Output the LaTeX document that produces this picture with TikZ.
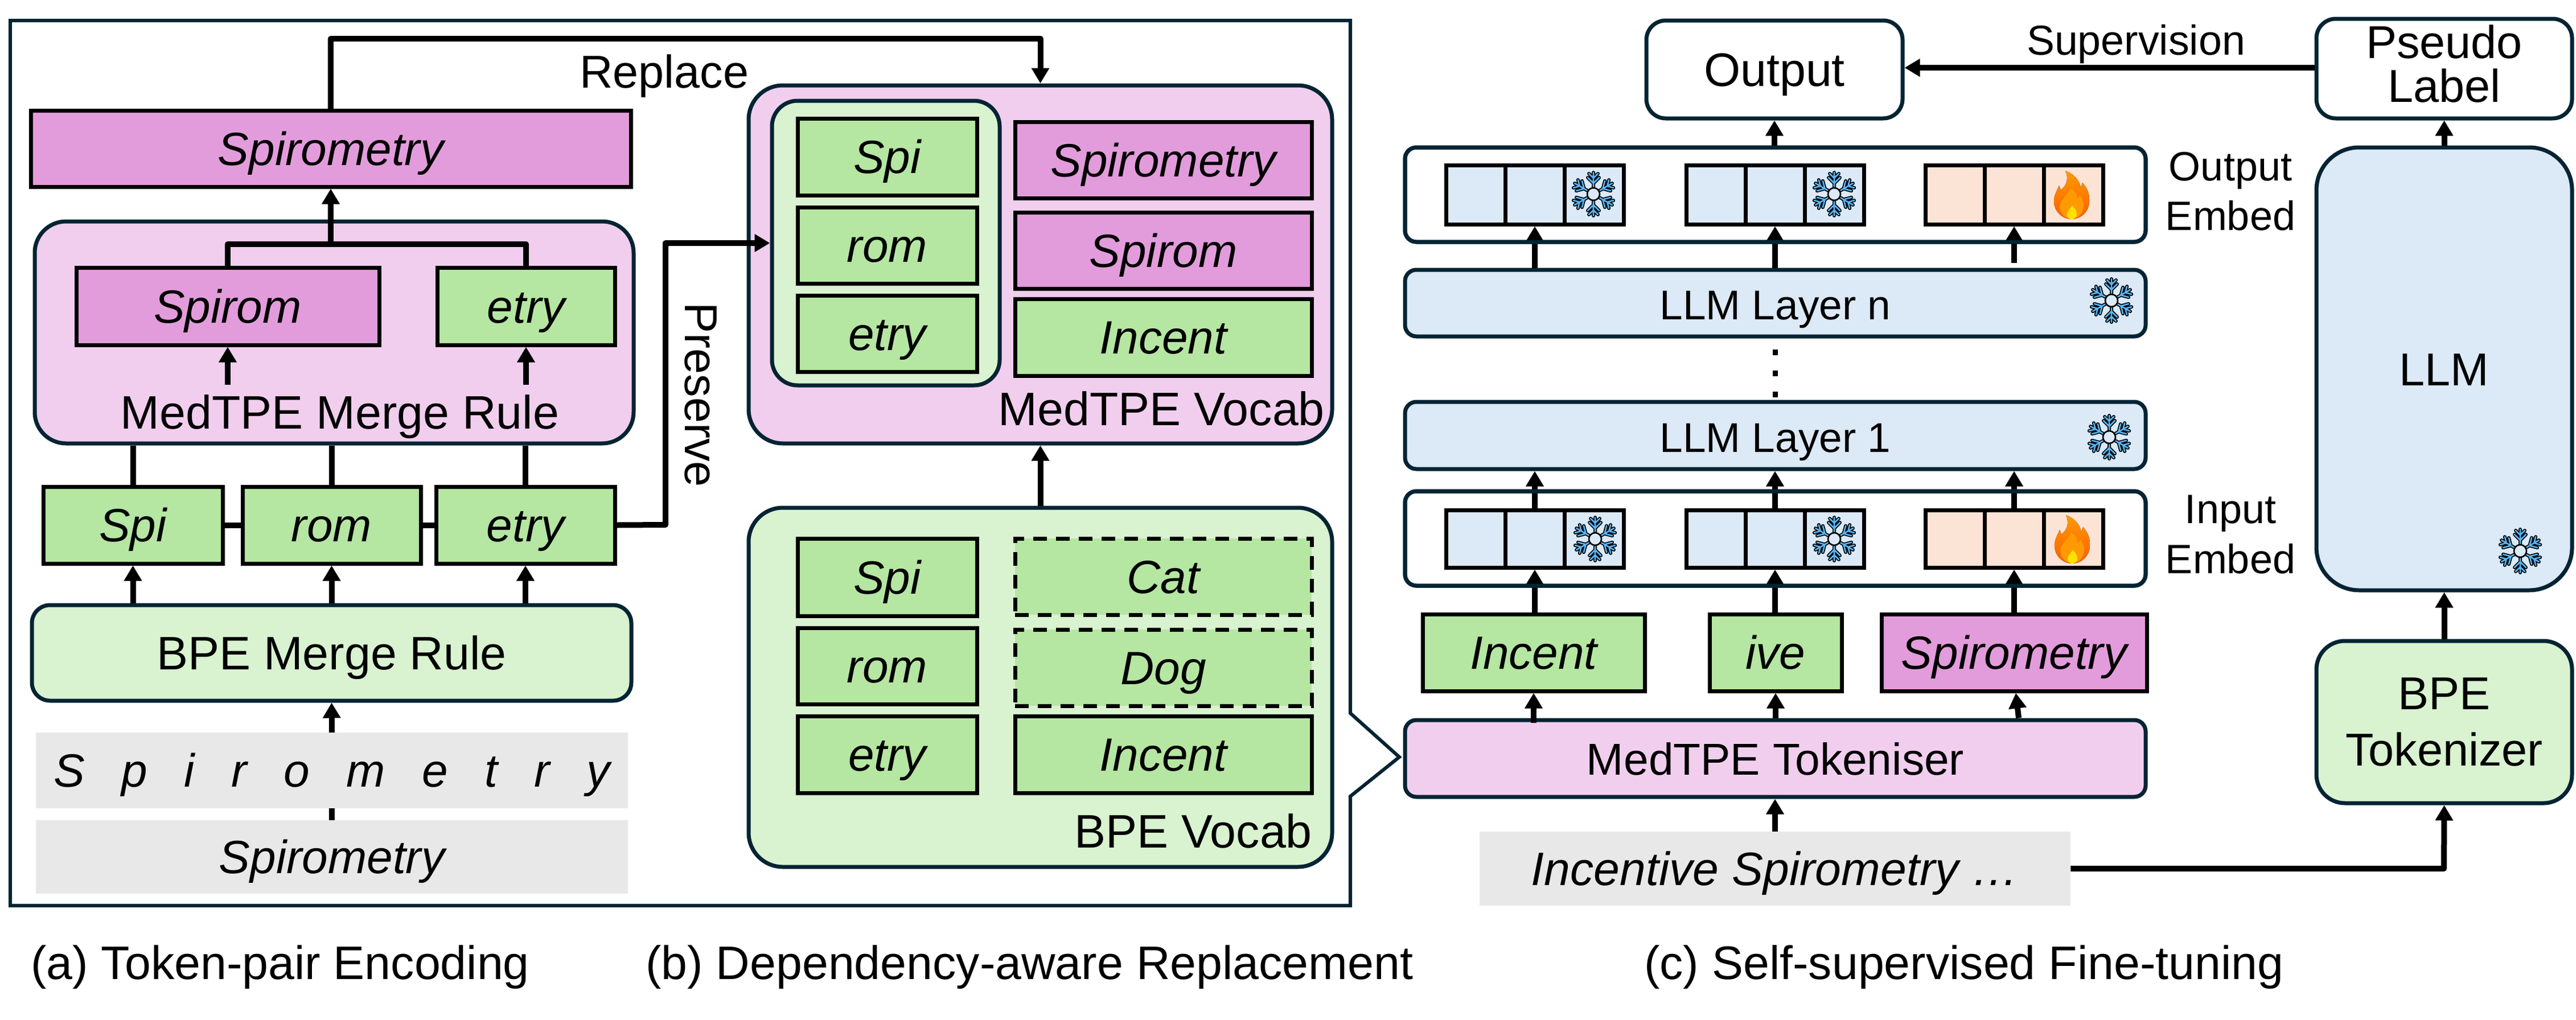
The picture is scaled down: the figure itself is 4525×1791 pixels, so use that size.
\documentclass[tikz,border=0pt]{standalone}
\usepackage{fontspec}
\setmainfont{Liberation Sans}
\usetikzlibrary{arrows.meta,calc}
\definecolor{ink}{HTML}{042433}
\definecolor{pinkstrong}{HTML}{E29CDB}
\definecolor{pinklight}{HTML}{F1CEEE}
\definecolor{greenstrong}{HTML}{B5E6A2}
\definecolor{greenlight}{HTML}{D9F2D0}
\definecolor{bluelight}{HTML}{DCE9F6}
\definecolor{peach}{HTML}{FBE3D6}
\definecolor{greybg}{HTML}{E8E8E8}
\definecolor{flakeblue}{HTML}{5AB4F5}
\definecolor{flametop}{HTML}{FF9A00}
\definecolor{flamebot}{HTML}{FF5F00}
\definecolor{flamemid}{HTML}{FF9A05}
\definecolor{flamecore}{HTML}{FFE100}
\newcommand{\fs}[1]{\fontsize{#1}{#1}\selectfont}
% name, x1, y1, x2, y2, style, text
\newcommand{\mybox}[7]{\node[#6,minimum width={((#4)-(#2))*1pt},minimum height={((#5)-(#3))*1pt}] (#1) at ({((#2)+(#4))/2},{((#3)+(#5))/2}) {#7};}
% name, x1, y1, y2, fill
\newcommand{\cellgroup}[5]{%
  \mybox{#1a}{#2}{#3}{#2+104}{#4}{cellbox,fill=#5}{}
  \mybox{#1b}{#2+104}{#3}{#2+208}{#4}{cellbox,fill=#5}{}
  \mybox{#1c}{#2+208}{#3}{#2+312}{#4}{cellbox,fill=#5}{}
}
\tikzset{
  x=1pt,y=-1pt,
  every node/.style={inner sep=0pt},
  labeltxt/.style={font=\fs{82.5},text height=58pt,text depth=0pt},
  tokentxt/.style={font=\fs{82}\itshape,text height=58pt,text depth=0pt},
  token/.style={rectangle,draw=black,line width=7pt,tokentxt},
  tokpink/.style={token,fill=pinkstrong},
  tokgreen/.style={token,fill=greenstrong},
  tokdash/.style={tokgreen,dash pattern=on 24pt off 16pt},
  roundbox/.style={rectangle,draw=ink,line width=7pt,labeltxt},
  greyrow/.style={rectangle,fill=greybg,tokentxt},
  cellbox/.style={rectangle,draw=black,line width=7pt},
  conn/.style={draw=black,line width=10pt,line join=round},
  arr/.style={conn,-{Triangle[length=27pt,width=30pt]}},
  bigarr/.style={draw=black,line width=10pt,-{Triangle[length=27pt,width=30pt]}},
  caption/.style={font=\fs{82.5},anchor=base west},
  frameline/.style={draw=ink,line width=6pt,line join=miter},
  pics/snow/.style={code={
    \foreach \lw/\col in {6/black,2.6/flakeblue}{
      \foreach \a in {0,60,...,300}{
        \begin{scope}[rotate=\a]
          \draw[line width=\lw pt,color=\col,line cap=round,line join=round]
            (0,13)--(0,38) (0,19)--(-10,29) (0,19)--(10,29) (0,28)--(-8,36) (0,28)--(8,36);
        \end{scope}
      }
    }
    \draw[black,line width=2.6pt] (0,0) circle (11);
  }},
  pics/flame/.style={code={
    \fill[top color=flametop,bottom color=flamebot,draw=none]
      (-11,-43) .. controls (10,-35) and (15,-20) .. (16,-13) -- (19,-22)
      .. controls (30,-10) and (31,0) .. (31,10)
      .. controls (31,30) and (15,42) .. (0,42)
      .. controls (-15,42) and (-31,30) .. (-31,10)
      .. controls (-31,0) and (-25,-10) .. (-22,-17) -- (-19,-9)
      .. controls (-8,-18) and (-5,-30) .. (-11,-43) -- cycle;
    \fill[flamemid]
      (-2,-12) .. controls (8,-5) and (12,2) .. (8,7) -- (15,1)
      .. controls (20,8) and (21,15) .. (21,17)
      .. controls (21,32) and (10,42) .. (0,42)
      .. controls (-10,42) and (-21,32) .. (-21,20)
      .. controls (-21,8) and (-8,2) .. (-2,-12) -- cycle;
    \fill[flamecore]
      (1,18) .. controls (5,22) and (9,28) .. (9,33)
      .. controls (9,38) and (5,42) .. (0,42)
      .. controls (-5,42) and (-8,38) .. (-8,33)
      .. controls (-8,28) and (-3,25) .. (1,18) -- cycle;
  }}
}
\begin{document}
\begin{tikzpicture}
\useasboundingbox (0,0) rectangle (4525,1791);

% frame around (a) and (b)
\draw[frameline] (18,36) -- (2372,36) -- (2372,1253) -- (2458,1330) -- (2372,1399) -- (2372,1591) -- (18,1591) -- cycle;

% ---------- (a) ----------
\mybox{top}{54}{194}{1108}{328}{tokpink}{Spirometry}
\mybox{merge}{61}{389}{1113}{779}{roundbox,fill=pinklight,rounded corners=55pt}{}
\mybox{spirom}{134}{470}{666}{606}{tokpink}{Spirom}
\mybox{etrymerged}{768}{470}{1080}{606}{tokgreen}{etry}
\node[font=\fs{82.5},anchor=base] (mergelabel) at (597,753) {MedTPE Merge Rule};
\coordinate (spiromstart) at (400,676);
\coordinate (etrystart) at (924,676);
\coordinate (joint) at (581,429);
\draw[conn] (spirom.north) -- (spirom.north |- joint) -- (etrymerged.north |- joint) -- (etrymerged.north);
\draw[arr] (joint) -- (top.south);
\draw[arr] (spiromstart) -- (spirom.south);
\draw[arr] (etrystart) -- (etrymerged.south);

\mybox{tspi}{76}{855}{391}{990}{tokgreen}{Spi}
\mybox{trom}{426}{855}{739}{990}{tokgreen}{rom}
\mybox{tetry}{766}{855}{1080}{990}{tokgreen}{etry}
\draw[conn] (tspi.east) -- (trom.west);
\draw[conn] (trom.east) -- (tetry.west);
\draw[conn] (tspi.north) -- (tspi.north |- merge.south);
\draw[conn] (trom.north) -- (trom.north |- merge.south);
\draw[conn] (tetry.north) -- (tetry.north |- merge.south);

\mybox{bperule}{56}{1063}{1109}{1231}{roundbox,fill=greenlight,rounded corners=32pt}{BPE Merge Rule}
\draw[arr] (bperule.north -| tspi.south) -- (tspi.south);
\draw[arr] (bperule.north -| trom.south) -- (trom.south);
\draw[arr] (bperule.north -| tetry.south) -- (tetry.south);
\mybox{chars}{63}{1287}{1103}{1420}{greyrow}{\spaceskip=64.5pt S p i r o m e t r y}
\mybox{word}{63}{1441}{1103}{1570}{greyrow}{Spirometry}
\draw[arr] (chars.north) -- (bperule.south);
\draw[conn] (word.north) -- (chars.south);

% ---------- (b) ----------
\mybox{medvocab}{1315}{150}{2340}{779}{roundbox,fill=pinklight,rounded corners=60pt}{}
\mybox{innergreen}{1356}{177}{1756}{677}{roundbox,fill=greenlight,rounded corners=45pt}{}
\mybox{mspi}{1401}{208}{1716}{343}{tokgreen}{Spi}
\mybox{mrom}{1401}{364}{1716}{498}{tokgreen}{rom}
\mybox{metry}{1401}{519}{1716}{653}{tokgreen}{etry}
\mybox{mspirometry}{1783}{214}{2304}{348}{tokpink}{Spirometry}
\mybox{mspirom}{1783}{373}{2304}{507}{tokpink}{Spirom}
\mybox{mincent}{1783}{525}{2304}{660}{tokgreen}{Incent}
\node[font=\fs{82.5},anchor=base east] (medvocablabel) at (2327,747) {MedTPE Vocab};

\mybox{bpevocab}{1315}{892}{2340}{1523}{roundbox,fill=greenlight,rounded corners=60pt}{}
\mybox{bspi}{1401}{946}{1716}{1082}{tokgreen}{Spi}
\mybox{brom}{1401}{1103}{1716}{1237}{tokgreen}{rom}
\mybox{betry}{1401}{1258}{1716}{1393}{tokgreen}{etry}
\mybox{bcat}{1783}{946}{2304}{1080}{tokdash}{Cat}
\mybox{bdog}{1783}{1106}{2304}{1240}{tokdash}{Dog}
\mybox{bincent}{1783}{1258}{2304}{1393}{tokgreen}{Incent}
\node[font=\fs{82.5},anchor=base east] (bpevocablabel) at (2305,1489) {BPE Vocab};
\draw[arr] (bpevocab.north) -- (medvocab.south);

\coordinate (replaceturn) at (581,68);
\draw[arr] (top.north) -- (top.north |- replaceturn) -- (medvocab.north |- replaceturn) -- (medvocab.north);
\node[font=\fs{81},anchor=base west] (replace) at (1018,154) {Replace};
\coordinate (preserveturn) at (1169,922);
\draw[arr] (tetry.east) -- (preserveturn) -- (preserveturn |- innergreen.west) -- (innergreen.west);
\node[font=\fs{81},rotate=-90,anchor=base] (preserve) at (1203,694) {Preserve};

% ---------- (c) ----------
\mybox{output}{2892}{36}{3342}{208}{roundbox,fill=white,rounded corners=34pt}{Output}
\mybox{pseudo}{4069}{33}{4518}{208}{rectangle,draw=ink,line width=7pt,fill=white,rounded corners=34pt,align=center,font=\fontsize{81}{77}\selectfont}{Pseudo\\Label\rule[-18pt]{0pt}{18pt}}
\coordinate (suplevel) at (3700,119);
\draw[bigarr] (pseudo.west |- suplevel) -- (output.east |- suplevel);
\node[font=\fs{73.5},anchor=base] (supervision) at (3752,96) {Supervision};

\mybox{embedout}{2468}{259}{3769}{425}{roundbox,fill=white,rounded corners=20pt,outer sep=0pt}{}
\cellgroup{oa}{2540}{290}{394}{bluelight}
\cellgroup{ob}{2962}{290}{394}{bluelight}
\cellgroup{oc}{3382}{290}{394}{peach}
\pic at (2799,341) {snow};
\pic at (3222,341) {snow};
\pic at (3639,343) {flame};
\node[font=\fontsize{72}{87}\selectfont,align=center] (outembed) at (3918,336.5) {Output\\Embed};

\mybox{layern}{2468}{474}{3769}{591}{roundbox,fill=bluelight,rounded corners=20pt,font=\fs{73}}{LLM Layer n}
\mybox{layerone}{2468}{706}{3769}{824}{roundbox,fill=bluelight,rounded corners=20pt,font=\fs{73}}{LLM Layer 1}
\pic at (3709,528) {snow};
\pic at (3705,768) {snow};
\draw[line width=9pt,dash pattern=on 10pt off 27pt,shorten <=19pt] (layern.south) -- (layerone.north);

\mybox{embedin}{2468}{863}{3769}{1029}{roundbox,fill=white,rounded corners=20pt,outer sep=0pt}{}
\cellgroup{ia}{2540}{896}{997}{bluelight}
\cellgroup{ib}{2962}{896}{997}{bluelight}
\cellgroup{ic}{3382}{896}{997}{peach}
\pic at (2802,947) {snow};
\pic at (3222,947) {snow};
\pic at (3640,948) {flame};
\node[font=\fontsize{72}{88}\selectfont,align=center] (inembed) at (3918,939) {Input\\Embed};

% output embed arrows
\draw[arr] (layern.north -| oab.south) -- (oab.south);
\draw[arr] (layern.north -| obb.south) -- (obb.south);
\draw[arr,shorten <=9pt] (layern.north -| ocb.south) -- (ocb.south);
\draw[arr] (embedout.north -| output.south) -- (output.south);
% input embed arrows
\draw[arr] (iab.north) -- (layerone.south -| iab.north);
\draw[arr] (ibb.north) -- (layerone.south -| ibb.north);
\draw[arr] (icb.north) -- (layerone.south -| icb.north);

\mybox{incent}{2499}{1079}{2889}{1214}{tokgreen}{Incent}
\mybox{ive}{3003}{1079}{3235}{1214}{tokgreen}{ive}
\mybox{spirometry}{3305}{1079}{3771}{1214}{tokpink}{Spirometry}
\draw[arr] (incent.north -| iab.south) -- (iab.south);
\draw[arr] (ive.north -| ibb.south) -- (ibb.south);
\draw[arr] (spirometry.north -| icb.south) -- (icb.south);
\draw[ink,line width=7pt,rounded corners=20pt] (embedout.north west) rectangle (embedout.south east);
\draw[ink,line width=7pt,rounded corners=20pt] (embedin.north west) rectangle (embedin.south east);

\mybox{tokeniser}{2468}{1265}{3769}{1400}{roundbox,fill=pinklight,rounded corners=20pt,font=\fs{78.5}}{MedTPE Tokeniser}
\draw[arr,shorten <=-8pt] (tokeniser.north -| incent.south) -- (incent.south);
\draw[arr] (tokeniser.north -| ive.south) -- (ive.south);
\draw[arr] ($(tokeniser.north -| spirometry.south)+(8,0)$) -- ($(spirometry.south)+(3,0)$);
\mybox{inputtext}{2599}{1461}{3637}{1591}{greyrow,font=\fs{82.4}\itshape}{Incentive Spirometry …}
\draw[arr] (inputtext.north) -- (inputtext.north |- tokeniser.south);

\mybox{llm}{4069}{259}{4518}{1037}{roundbox,fill=bluelight,rounded corners=75pt,font=\fs{81}}{LLM}
\pic at (4427,968) {snow};
\mybox{bpetok}{4069}{1126}{4518}{1411}{rectangle,draw=ink,line width=7pt,fill=greenlight,rounded corners=50pt,align=center,font=\fontsize{81}{99}\selectfont}{BPE\\Tokenizer}
\draw[arr] (bpetok.north) -- (llm.south);
\draw[arr] (llm.north) -- (pseudo.south);
\coordinate (inputturn) at (4293,1526);
\draw[arr] (inputtext.east |- inputturn) -- (inputturn) -- (bpetok.south);

% captions
\node[caption] (capa) at (54,1720) {(a) Token-pair Encoding};
\node[caption] (capb) at (1134,1720) {(b) Dependency-aware Replacement};
\node[caption] (capc) at (2888,1720) {(c) Self-supervised Fine-tuning};
\end{tikzpicture}
\end{document}
